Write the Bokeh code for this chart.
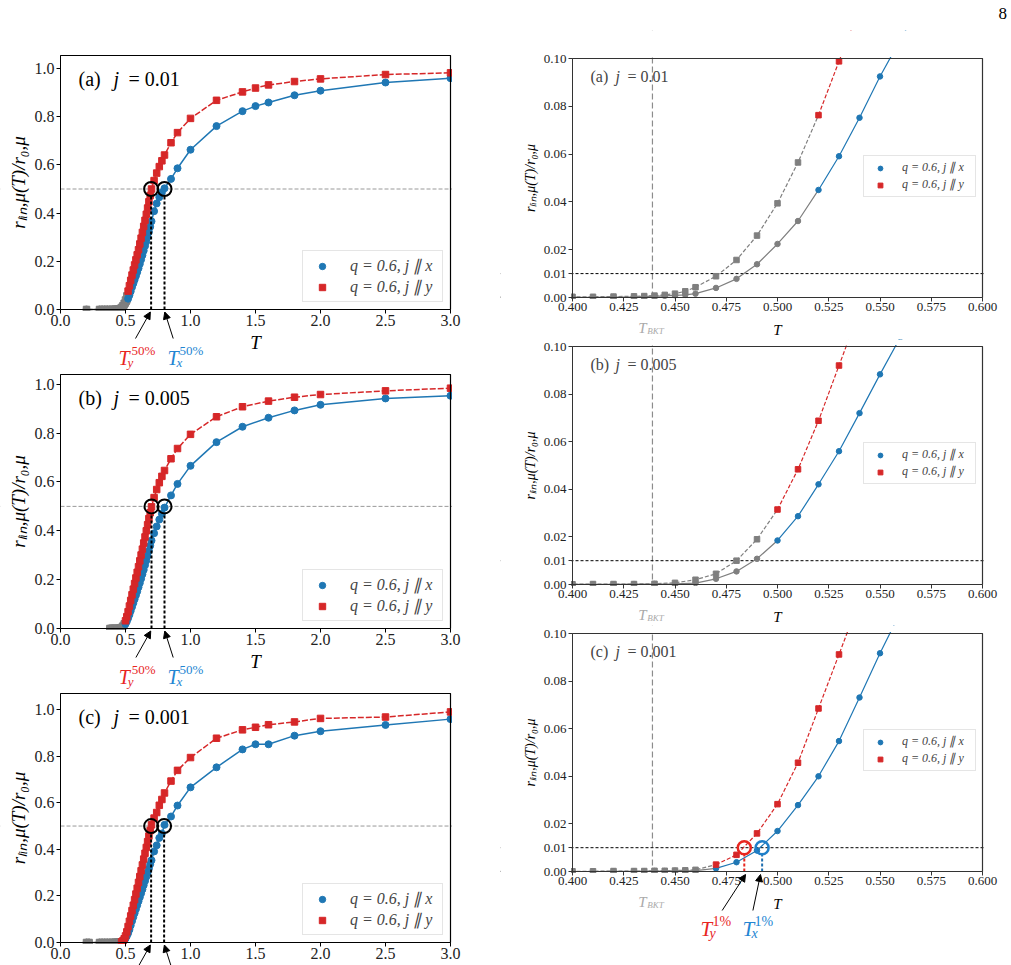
import numpy as np
from bokeh.plotting import figure
from bokeh.layouts import row, column
from bokeh.models import (Range1d, FixedTicker, NumeralTickFormatter, Span, Label,
                          Arrow, NormalHead, Legend, LegendItem, LinearAxis, Div,
                          BoxAnnotation)
from bokeh.embed import file_html
from bokeh.resources import INLINE

# ------------------------------------------------------------------ data
# panel (a): j = 0.01
T_a = [0.20, 0.30, 0.32, 0.34, 0.36, 0.38, 0.40, 0.41, 0.42, 0.43, 0.435, 0.44, 0.445,
       0.45, 0.455, 0.46, 0.47, 0.48, 0.49, 0.50, 0.51, 0.52, 0.53, 0.54, 0.55, 0.56,
       0.57, 0.58, 0.59, 0.60, 0.61, 0.62, 0.63, 0.64, 0.65, 0.66, 0.67, 0.68, 0.69,
       0.70, 0.72, 0.74, 0.76, 0.78, 0.80, 0.85, 0.90, 1.0, 1.2, 1.4, 1.5, 1.6, 1.8,
       2.0, 2.5, 3.0]
rx_a = [0.0000, 0.0000, 0.0000, 0.0000, 0.0000, 0.0000, 0.0001, 0.0001, 0.0002, 0.0003,
        0.0004, 0.0005, 0.0007, 0.0009, 0.0011, 0.0016, 0.0040, 0.0078, 0.0139, 0.0224,
        0.0320, 0.0450, 0.0591, 0.0752, 0.0925, 0.108, 0.123, 0.139, 0.155, 0.171,
        0.189, 0.207, 0.225, 0.244, 0.263, 0.282, 0.302, 0.322, 0.343, 0.366, 0.408,
        0.440, 0.466, 0.486, 0.503, 0.542, 0.586, 0.663, 0.761, 0.823, 0.844, 0.859,
        0.889, 0.908, 0.942, 0.960]
ry_a = [0.0002, 0.0002, 0.0002, 0.0002, 0.0003, 0.0003, 0.0003, 0.0003, 0.0004, 0.0005,
        0.0006, 0.0008, 0.0011, 0.0016, 0.0026, 0.0043, 0.0089, 0.0157, 0.0259, 0.0394,
        0.0565, 0.0763, 0.0988, 0.121, 0.143, 0.164, 0.185, 0.206, 0.227, 0.248,
        0.272, 0.296, 0.320, 0.345, 0.370, 0.395, 0.421, 0.447, 0.473, 0.500, 0.535,
        0.566, 0.593, 0.617, 0.641, 0.692, 0.734, 0.793, 0.868, 0.903, 0.919, 0.932,
        0.946, 0.957, 0.975, 0.982]
cut_a = 0.52
T50_a = [0.697, 0.800]

# panel (b): j = 0.005
T_b = [0.38, 0.39, 0.40, 0.41, 0.42, 0.43, 0.44, 0.45, 0.46, 0.47, 0.48, 0.49, 0.50,
       0.51, 0.52, 0.53, 0.54, 0.55, 0.56, 0.57, 0.58, 0.59, 0.60, 0.61, 0.62, 0.63,
       0.64, 0.65, 0.66, 0.67, 0.68, 0.69, 0.70, 0.72, 0.74, 0.76, 0.78, 0.80, 0.85,
       0.90, 1.0, 1.2, 1.4, 1.6, 1.8, 2.0, 2.5, 3.0]
rx_b = [0.0000, 0.0000, 0.0001, 0.0001, 0.0001, 0.0002, 0.0002, 0.0003, 0.0006, 0.0024,
        0.0055, 0.0108, 0.0185, 0.0287, 0.0421, 0.0560, 0.0720, 0.0883, 0.104, 0.120,
        0.136, 0.152, 0.169, 0.186, 0.204, 0.222, 0.240, 0.259, 0.278, 0.298, 0.318,
        0.339, 0.360, 0.390, 0.418, 0.446, 0.470, 0.495, 0.545, 0.592, 0.666, 0.763,
        0.826, 0.863, 0.893, 0.916, 0.942, 0.953]
ry_b = [0.0001, 0.0001, 0.0001, 0.0002, 0.0002, 0.0002, 0.0003, 0.0007, 0.0020, 0.0045,
        0.0100, 0.0190, 0.0315, 0.0484, 0.0688, 0.0920, 0.115, 0.138, 0.161, 0.184,
        0.207, 0.230, 0.253, 0.277, 0.301, 0.325, 0.350, 0.375, 0.400, 0.425, 0.450,
        0.474, 0.498, 0.536, 0.569, 0.597, 0.623, 0.647, 0.695, 0.737, 0.795, 0.867,
        0.908, 0.931, 0.947, 0.958, 0.973, 0.984]
cut_b = 0.50
T50_b = [0.700, 0.800]

# panel (c): j = 0.001
T_c = [0.20, 0.22, 0.30, 0.32, 0.34, 0.36, 0.38, 0.40, 0.41, 0.42, 0.43, 0.435, 0.44,
       0.445, 0.45, 0.455, 0.46, 0.47, 0.48, 0.49, 0.50, 0.51, 0.52, 0.53, 0.54, 0.55,
       0.56, 0.57, 0.58, 0.59, 0.60, 0.61, 0.62, 0.63, 0.64, 0.65, 0.66, 0.67, 0.68,
       0.69, 0.70, 0.72, 0.74, 0.76, 0.78, 0.80, 0.85, 0.90, 1.0, 1.2, 1.4, 1.5, 1.6,
       1.8, 2.0, 2.5, 3.0]
rx_c = [0.0000, 0.0000, 0.0000, 0.0000, 0.0000, 0.0000, 0.0000, 0.0000, 0.0000, 0.0001,
        0.0001, 0.0001, 0.0002, 0.0002, 0.0003, 0.0003, 0.0004, 0.0013, 0.0039, 0.0088,
        0.0170, 0.0279, 0.0400, 0.0548, 0.0731, 0.0917, 0.109, 0.126, 0.143, 0.160,
        0.177, 0.194, 0.211, 0.228, 0.246, 0.264, 0.282, 0.300, 0.318, 0.336, 0.353,
        0.391, 0.417, 0.449, 0.468, 0.505, 0.541, 0.588, 0.666, 0.752, 0.829, 0.851,
        0.851, 0.888, 0.907, 0.934, 0.959]
ry_c = [0.0001, 0.0001, 0.0001, 0.0001, 0.0001, 0.0001, 0.0001, 0.0001, 0.0001, 0.0002,
        0.0002, 0.0002, 0.0003, 0.0003, 0.0004, 0.0005, 0.0007, 0.0029, 0.0070, 0.0160,
        0.0283, 0.0457, 0.0685, 0.0912, 0.114, 0.137, 0.160, 0.184, 0.208, 0.233,
        0.258, 0.283, 0.308, 0.333, 0.358, 0.383, 0.408, 0.433, 0.457, 0.481, 0.505,
        0.534, 0.558, 0.589, 0.614, 0.642, 0.693, 0.739, 0.794, 0.877, 0.913, 0.924,
        0.935, 0.947, 0.962, 0.968, 0.990]
cut_c = 0.47
T50_c = [0.697, 0.797]
T1_c = [0.4838, 0.4925]

T_BKT = 0.439
level50 = 0.5
level1 = 0.01

left_xticks = [0.0, 0.5, 1.0, 1.5, 2.0, 2.5, 3.0]
left_yticks = [0.0, 0.2, 0.4, 0.6, 0.8, 1.0]
right_xticks = [0.400, 0.425, 0.450, 0.475, 0.500, 0.525, 0.550, 0.575, 0.600]
right_yticks = [0.00, 0.01, 0.02, 0.04, 0.06, 0.08, 0.10]
panel_tags = ["(a)", "(b)", "(c)"]
j_values = ["0.01", "0.005", "0.001"]
legend_labels = ["q = 0.6, j \u2225 x", "q = 0.6, j \u2225 y"]
y_label = "r\u2097\u1d62\u2099,\u03bc(T)/r\u2080,\u03bc"
page_number = "8"

# ------------------------------------------------------------------ style
BLUE = "#1f77b4"
RED = "#d62728"
GRAY = "#7f7f7f"
RED_L = "#e8261f"
BLUE_L = "#2385d2"
SERIF = "Liberation Serif"


def txt(p, x, y, s, size, color="black", italic=False, xo=0, yo=0, align="left"):
    p.add_layout(Label(x=x, y=y, x_offset=xo, y_offset=yo,
                       text=s, text_font=SERIF, text_font_size=f"{size}px",
                       text_font_style="italic" if italic else "normal",
                       text_color=color, text_align=align, text_baseline="alphabetic"))


def make_fig(W, H, L, R, Tp, B, xr, yr, xticks, yticks, xfmt, yfmt,
             tick_px, ylab_px, spine):
    """Figure whose frame is the whole canvas; the axes box is drawn with
    fixed-location axes so that texts below the box are not clipped."""
    x0, x1 = xr
    y0, y1 = yr
    sx = (x1 - x0) / (R - L)
    sy = (y1 - y0) / (B - Tp)
    p = figure(width=W, height=H,
               x_range=Range1d(x0 - L * sx, x1 + (W - R) * sx),
               y_range=Range1d(y0 - (H - B) * sy, y1 + Tp * sy),
               output_backend="svg", toolbar_location=None, min_border=0,
               x_axis_location=None, y_axis_location=None)
    p.grid.visible = False
    p.outline_line_color = None
    p.background_fill_color = "white"
    p.border_fill_color = "white"

    def axis(**kw):
        return LinearAxis(axis_line_color=spine, major_tick_line_color=spine,
                          minor_tick_line_color=None, major_tick_in=0, major_tick_out=4,
                          major_label_text_font=SERIF,
                          major_label_text_font_size=f"{tick_px}px",
                          major_label_text_color="#222222",
                          axis_label_text_font=SERIF, axis_label_text_font_style="italic",
                          axis_label_text_color="black", **kw)

    xa = axis(fixed_location=y0, bounds=(x0, x1), ticker=FixedTicker(ticks=xticks),
              formatter=NumeralTickFormatter(format=xfmt), major_label_standoff=1)
    ya = axis(fixed_location=x0, bounds=(y0, y1), ticker=FixedTicker(ticks=yticks),
              formatter=NumeralTickFormatter(format=yfmt), major_label_standoff=2,
              axis_label=y_label, axis_label_text_font_size=f"{ylab_px}px",
              axis_label_standoff=3)
    # top and right spines: tick-less axes fixed at the box edges
    ta = axis(fixed_location=y1, bounds=(x0, x1), ticker=FixedTicker(ticks=[]))
    ra = axis(fixed_location=x1, bounds=(y0, y1), ticker=FixedTicker(ticks=[]))
    p.add_layout(xa, "below")
    p.add_layout(ya, "left")
    p.add_layout(ta, "above")
    p.add_layout(ra, "right")
    return p, xa, sx, sy


def frame_box(p, xr, yr, sx, sy, spine):
    """White bands just outside the axes box hide data that runs past its
    edges; top and right edges of the box are closed with thin lines."""
    x0, x1 = xr
    y0, y1 = yr
    gx, gy = 1.5 * sx, 1.5 * sy
    for kw in (dict(bottom=y1 + gy), dict(top=y0 - gy), dict(right=x0 - gx),
               dict(left=x1 + gx)):
        p.add_layout(BoxAnnotation(fill_color="white", fill_alpha=1.0, line_color=None,
                                   level="glyph", **kw))
    p.segment(x0=[x0, x1], y0=[y1, y0], x1=[x1, x1], y1=[y1, y1],
              line_color=spine, line_width=1.2)


def draw_series(p, T, rx, ry, cut, lw, cs, ss, dash):
    T = np.asarray(T)
    rx = np.asarray(rx)
    ry = np.asarray(ry)
    n = int(np.sum(T < cut))
    p.line(T[:n + 1], rx[:n + 1], line_color=GRAY, line_width=lw)
    p.scatter(T[:n], rx[:n], marker="circle", size=cs, color=GRAY)
    p.line(T[:n + 1], ry[:n + 1], line_color=GRAY, line_width=lw, line_dash=dash)
    p.scatter(T[:n], ry[:n], marker="square", size=ss, color=GRAY)
    p.line(T[n:], rx[n:], line_color=BLUE, line_width=lw)
    mx = p.scatter(T[n:], rx[n:], marker="circle", size=cs, color=BLUE)
    p.line(T[n:], ry[n:], line_color=RED, line_width=lw, line_dash=dash)
    my = p.scatter(T[n:], ry[n:], marker="square", size=ss, color=RED)
    return mx, my


def add_legend(p, marks, loc, font_px, pad, gw, gh, lh, standoff, lwid):
    mx, my = marks
    leg = Legend(items=[LegendItem(label=legend_labels[0], renderers=[mx]),
                        LegendItem(label=legend_labels[1], renderers=[my])],
                 location=loc, padding=pad, margin=0, spacing=0,
                 glyph_width=gw, glyph_height=gh, label_height=lh, label_width=lwid,
                 label_standoff=standoff,
                 label_text_font=SERIF, label_text_font_style="italic",
                 label_text_font_size=f"{font_px}px",
                 border_line_color="#cccccc", border_line_width=1,
                 background_fill_color="white", background_fill_alpha=0.8)
    p.add_layout(leg)


def left_panel(i, T, rx, ry, cut, t50, ymax, H, Tp, B, last=False):
    W, L, R = 500, 60, 450
    xr, yr = (0.0, 3.0), (0.0, ymax)
    p, xa, sx, py = make_fig(W, H, L, R, Tp, B, xr, yr, left_xticks, left_yticks,
                             "0.0", "0.0", 16, 19, "black")
    if not last:
        xa.axis_label = "T"
        xa.axis_label_text_font_size = "19px"
        xa.axis_label_standoff = 3
    p.add_layout(Span(location=level50, dimension="width", line_color="#999999",
                      line_width=1, line_dash="4 2", level="underlay"))
    marks = draw_series(p, T, rx, ry, cut, 1.5, 7, 6.5, "6 2")
    ty, tx = t50
    p.segment(x0=[ty, tx], y0=[0, 0], x1=[ty, tx], y1=[level50 - 7 * py] * 2,
              line_color="black", line_width=2, line_dash="3 2")
    p.scatter([ty, tx], [level50, level50], marker="circle", size=14, fill_color=None,
              line_color="black", line_width=2)
    frame_box(p, xr, yr, sx, py, "black")
    for xs, xe in [(ty - 0.12, ty - 0.006), (tx + 0.067, tx + 0.002)]:
        p.add_layout(Arrow(end=NormalHead(size=7, fill_color="black", line_color="black",
                                          line_width=1),
                           x_start=xs, y_start=-29 * py, x_end=xe, y_end=-2.5 * py,
                           line_color="black", line_width=1))
    if not last:
        txt(p, ty - 0.251, 0, "T", 20, RED_L, True, yo=-48)
        txt(p, ty - 0.251, 0, "50%", 13, RED_L, False, xo=13, yo=-41)
        txt(p, ty - 0.251, 0, "y", 13, RED_L, True, xo=9, yo=-53)
        txt(p, tx + 0.023, 0, "T", 20, BLUE_L, True, yo=-48)
        txt(p, tx + 0.023, 0, "50%", 13, BLUE_L, False, xo=12, yo=-41)
        txt(p, tx + 0.023, 0, "x", 13, BLUE_L, True, xo=9, yo=-53)
    txt(p, 0, ymax, panel_tags[i], 20, xo=18, yo=-23)
    txt(p, 0, ymax, "j", 20, italic=True, xo=53, yo=-23)
    txt(p, 0, ymax, "= " + j_values[i], 20, xo=68, yo=-23)
    add_legend(p, marks, (L + 242, H - B + 7), 16, 4, 30, 16, 21, 13, 88)
    return p


def right_panel(i, T, rx, ry, cut, H, Tp, B, t1=None):
    W, L, R = 511, 72, 482
    xr, yr = (0.4, 0.6), (0.0, 0.1)
    p, xa, sx, py = make_fig(W, H, L, R, Tp, B, xr, yr, right_xticks, right_yticks,
                             "0.000", "0.00", 13, 14, "#333333")
    txt(p, 0.4, 0.1, panel_tags[i], 16, "#444444", xo=18, yo=-18)
    txt(p, 0.4, 0.1, "j", 16, "#444444", True, xo=43, yo=-18)
    txt(p, 0.4, 0.1, "= " + j_values[i], 16, "#444444", xo=55, yo=-18)
    p.add_layout(Span(location=T_BKT, dimension="height", line_color="#8c8c8c",
                      line_width=1.2, line_dash="6 3", level="underlay"))
    p.add_layout(Span(location=level1, dimension="width", line_color="black",
                      line_width=1, line_dash="3 2", level="underlay"))
    marks = draw_series(p, T, rx, ry, cut, 1.2, 5.5, 5.5, "4 2")
    if t1 is not None:
        ty, tx = t1
        p.segment(x0=[ty], y0=[0], x1=[ty], y1=[level1 - 6.5 * py], line_color=RED_L,
                  line_width=2, line_dash="3 2")
        p.segment(x0=[tx], y0=[0], x1=[tx], y1=[level1 - 6.5 * py], line_color="#1f6fb0",
                  line_width=2, line_dash="3 2")
        p.scatter([ty], [level1], marker="circle", size=13, fill_color=None,
                  line_color=RED_L, line_width=2.5)
        p.scatter([tx], [level1], marker="circle", size=13, fill_color=None,
                  line_color="#1f7fc9", line_width=2.5)
    frame_box(p, xr, yr, sx, py, "#333333")
    txt(p, 0.5, 0, "T", 15, "black", True, yo=-32, align="center")
    txt(p, T_BKT - 0.0069, 0, "T", 15, "#aaaaaa", True, yo=-30)
    txt(p, T_BKT - 0.0069, 0, "BKT", 9, "#aaaaaa", True, xo=9, yo=-33)
    if t1 is not None:
        ty, tx = t1
        for xs, xe in [(ty - 0.0108, ty + 0.0006), (tx - 0.0045, tx - 0.0008)]:
            p.add_layout(Arrow(end=NormalHead(size=7, fill_color="black",
                                              line_color="black", line_width=1),
                               x_start=xs, y_start=-39 * py, x_end=xe, y_end=-3 * py,
                               line_color="black", line_width=1))
        txt(p, ty - 0.0214, 0, "T", 21, RED_L, True, yo=-57)
        txt(p, ty - 0.0214, 0, "1%", 14, RED_L, False, xo=12, yo=-50)
        txt(p, ty - 0.0214, 0, "y", 14, RED_L, True, xo=9, yo=-62)
        txt(p, tx - 0.0096, 0, "T", 21, BLUE_L, True, yo=-57)
        txt(p, tx - 0.0096, 0, "1%", 14, BLUE_L, False, xo=12, yo=-50)
        txt(p, tx - 0.0096, 0, "x", 14, BLUE_L, True, xo=9, yo=-62)
    add_legend(p, marks, (L + 291, H - B + 100), 12, 3, 26, 12, 17, 9, 70)
    return p


La = left_panel(0, T_a, rx_a, ry_a, cut_a, T50_a, 1.054, 370, 55, 309)
Lb = left_panel(1, T_b, rx_b, ry_b, cut_b, T50_b, 1.04, 321, 4, 258)
Lc = left_panel(2, T_c, rx_c, ry_c, cut_c, T50_c, 1.069, 274, 2, 251, last=True)
page = Div(text=page_number, width=511, height=30, margin=0,
           styles={"font-family": SERIF, "font-size": "17px", "text-align": "right",
                   "padding-right": "4px", "padding-top": "2px", "box-sizing": "border-box"})
Ra = right_panel(0, T_a, rx_a, ry_a, cut_a, 309, 28, 267)
Rb = right_panel(1, T_b, rx_b, ry_b, cut_b, 286, 7, 245)
Rc = right_panel(2, T_c, rx_c, ry_c, cut_c, 340, 8, 246, t1=T1_c)

layout = row(column(La, Lb, Lc), column(page, Ra, Rb, Rc))
open("out.html", "w").write(file_html(layout, INLINE))
